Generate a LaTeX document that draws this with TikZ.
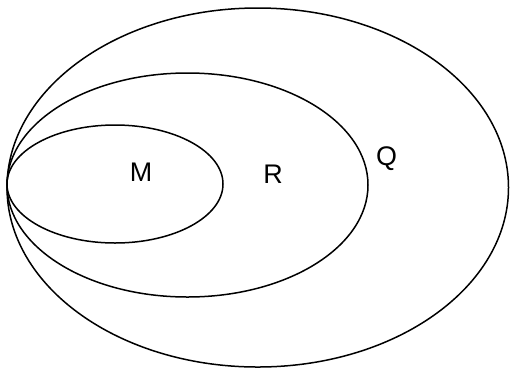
\documentclass[tikz,border=0pt]{standalone}
\usepackage{fontspec}
\setmainfont{Liberation Sans}
\begin{document}
\begin{tikzpicture}[x=1bp, y=-1bp, line width=1.5bp,
    setlabel/.style={font=\fontsize{27}{32}\selectfont, inner sep=0pt}]
    \useasboundingbox (0,0) rectangle (510,369);
    % Sets, all touching at the left
    \draw (257.75,187.5) ellipse [x radius=250.75, y radius=179.5];
    \draw (187.5,185) ellipse [x radius=180.5, y radius=112];
    \draw (115,184) ellipse [x radius=108, y radius=59];
    % Labels
    \node[setlabel] (M) at (141,172) {M};
    \node[setlabel] (R) at (273,174) {R};
    \node[setlabel] (Q) at (386.5,159) {Q};
\end{tikzpicture}
\end{document}
